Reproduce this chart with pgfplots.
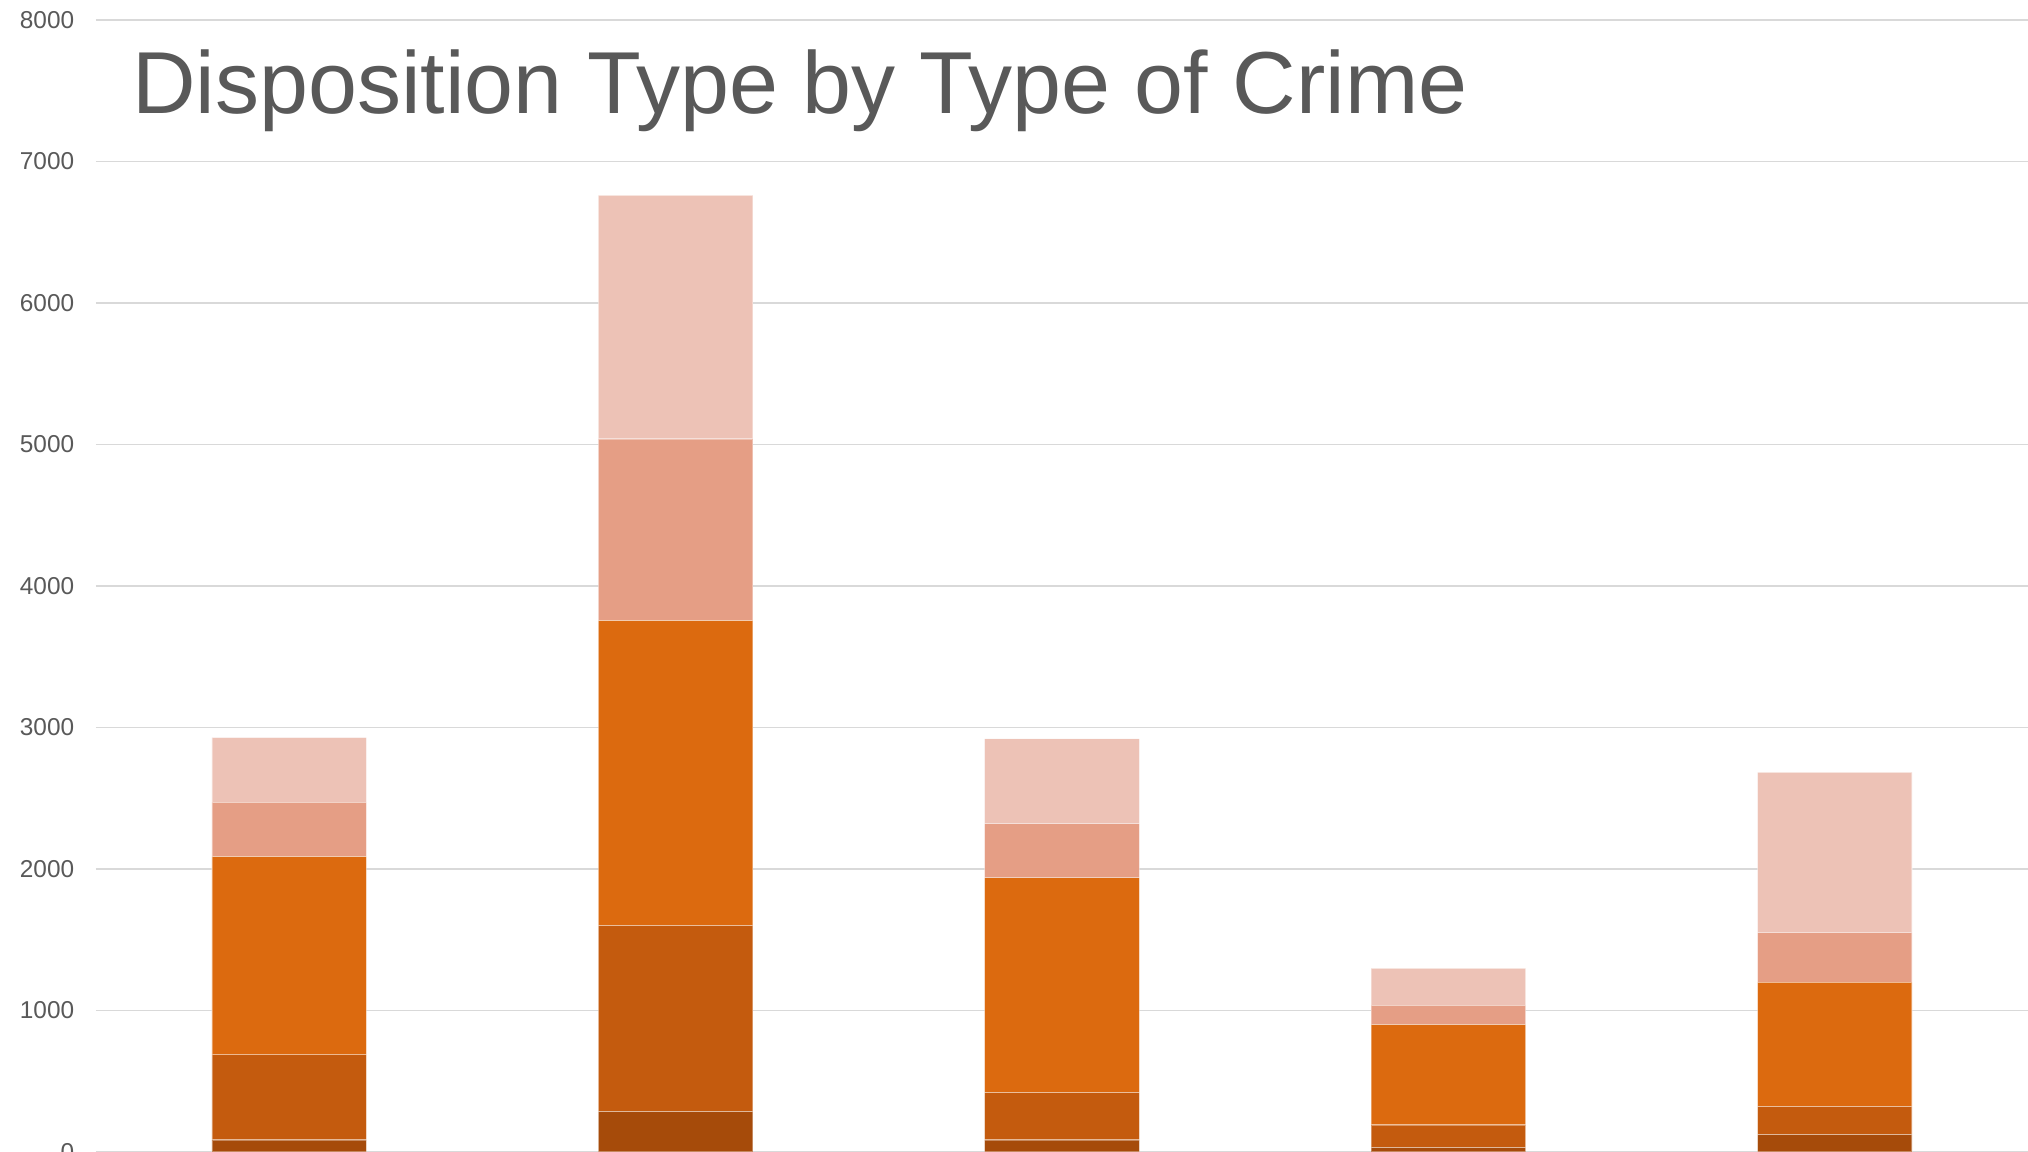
\documentclass[border=0pt]{standalone}
\usepackage{pgfplots}
\pgfplotsset{compat=1.18}
\usepackage{fontspec}
\setmainfont{Liberation Sans}
\definecolor{txtgray}{HTML}{595959}
\definecolor{gridgray}{HTML}{D9D9D9}
\definecolor{cA}{HTML}{A64B0A}
\definecolor{cB}{HTML}{C45B0E}
\definecolor{cC}{HTML}{DC6A0F}
\definecolor{cD}{HTML}{E59E85}
\definecolor{cE}{HTML}{EDC2B6}
\begin{document}
\begin{tikzpicture}
\useasboundingbox (0,0) rectangle (507pt,288pt);
\begin{axis}[
  at={(24pt,0pt)}, anchor=south west,
  width=483pt, height=283pt, scale only axis,
  xmin=-0.5, xmax=4.5, ymin=0, ymax=8000,
  ybar stacked, bar width=0.4,
  xtick=\empty,
  ytick={0,1000,...,8000},
  ymajorgrids, grid style={gridgray, line width=0.45pt},
  axis line style={draw=none},
  major tick length=0pt,
  /pgf/number format/assume math mode=true,
  /pgf/number format/1000 sep={},
  yticklabel style={font=\fontsize{6.1}{7}\selectfont, text=txtgray, inner sep=0pt, anchor=east, xshift=-5.25pt},
  every axis plot/.append style={draw=white, draw opacity=0.35, line width=0.3pt},
  clip=false,
]
\addplot[fill=cA] coordinates {(0,84) (1,285) (2,84) (3,31) (4,123)};
\addplot[fill=cB] coordinates {(0,603) (1,1315) (2,336) (3,159) (4,198)};
\addplot[fill=cC] coordinates {(0,1401) (1,2156) (2,1518) (3,710) (4,877)};
\addplot[fill=cD] coordinates {(0,382) (1,1283) (2,381) (3,136) (4,352)};
\addplot[fill=cE] coordinates {(0,459) (1,1721) (2,601) (3,261) (4,1132)};
\end{axis}
\node[anchor=base west, inner sep=0pt, text=txtgray, font=\fontsize{22}{26}\selectfont] at (32.9pt,259.5pt) {Disposition Type by Type of Crime};
\end{tikzpicture}
\end{document}
